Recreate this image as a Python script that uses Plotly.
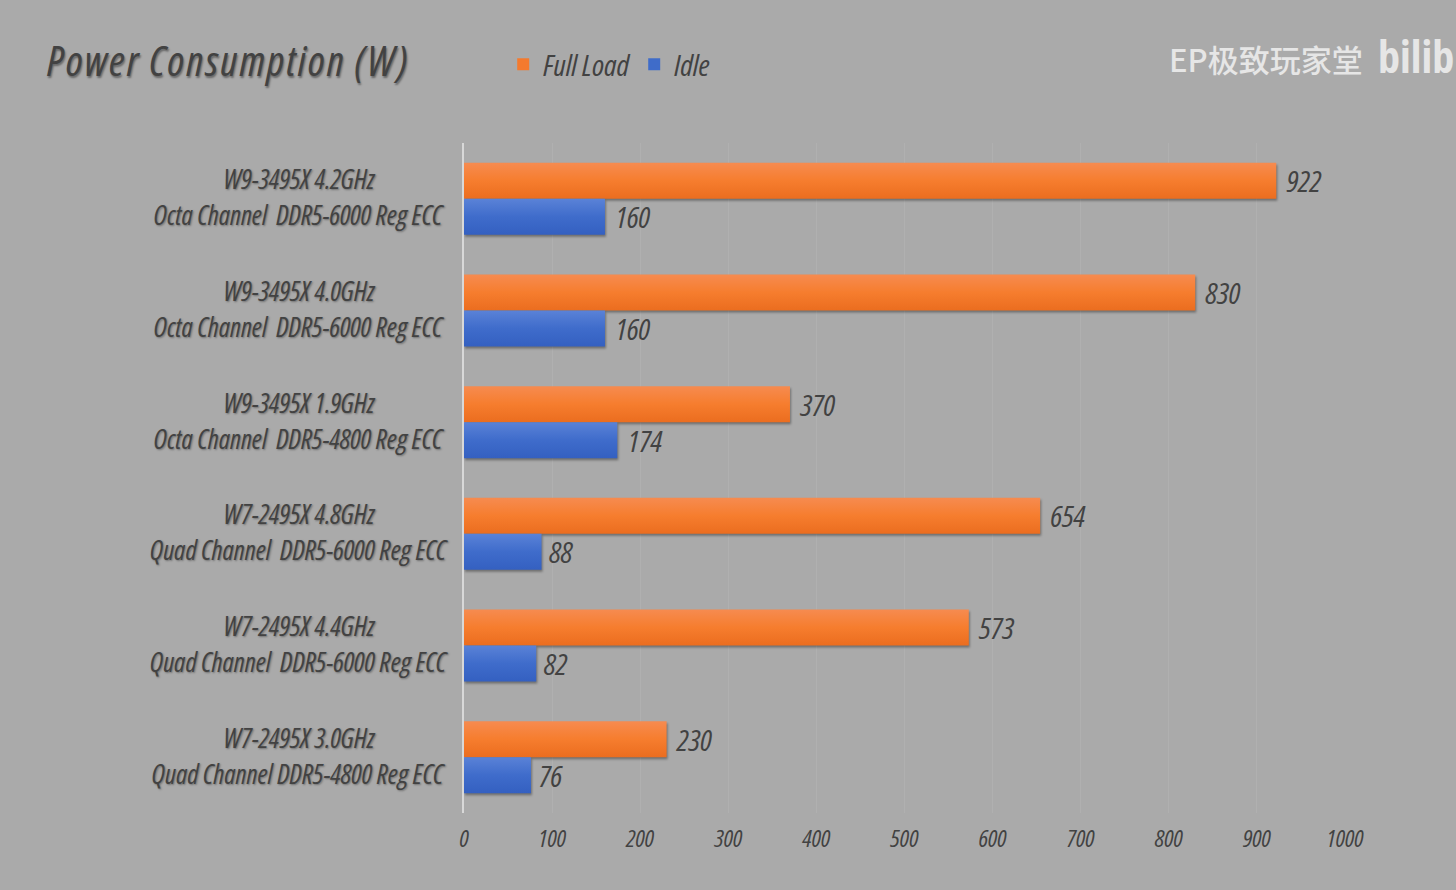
import plotly.graph_objects as go

line1 = ["W9-3495X 4.2GHz", "W9-3495X 4.0GHz", "W9-3495X 1.9GHz",
         "W7-2495X 4.8GHz", "W7-2495X 4.4GHz", "W7-2495X 3.0GHz"]
line2 = ["Octa Channel\u00a0\u00a0DDR5-6000 Reg ECC", "Octa Channel\u00a0\u00a0DDR5-6000 Reg ECC",
         "Octa Channel\u00a0\u00a0DDR5-4800 Reg ECC", "Quad Channel\u00a0\u00a0DDR5-6000 Reg ECC",
         "Quad Channel\u00a0\u00a0DDR5-6000 Reg ECC", "Quad Channel DDR5-4800 Reg ECC"]
categories = [a + " / " + b for a, b in zip(line1, line2)]
full_load = [922, 830, 370, 654, 573, 230]
idle = [160, 160, 174, 88, 82, 76]
x_ticks = [0, 100, 200, 300, 400, 500, 600, 700, 800, 900, 1000]

NARROW = "Open Sans"
DARK = "#424242"
SHADOW = "1px 1px 2px rgba(0,0,0,0.35)"

fig = go.Figure()
for name, vals, col in [("Full Load", full_load, "#F47A2E"), ("Idle", idle, "#3F6CC9")]:
    fig.add_trace(go.Bar(
        name=name, y=categories, x=vals, orientation="h", marker=dict(color=col, line_width=0),
        text=vals, textposition="outside", cliponaxis=False, constraintext="none",
        textfont=dict(family=NARROW, size=30, color=DARK, style="italic"),
    ))

ann = []
for i, (a, b) in enumerate(zip(line1, line2)):
    for txt, shift in ((a, 20), (b, -16)):
        ann.append(dict(xref="paper", yref="y", x=-0.1875, y=categories[i], text=txt,
                        yshift=shift, xanchor="center", yanchor="middle", showarrow=False,
                        font=dict(family=NARROW, size=27, color=DARK, style="italic", shadow=SHADOW)))
ann.append(dict(xref="paper", yref="paper", x=-0.476, y=1.124, align="left",
                text='<span style="letter-spacing:2px">Power Consumption (W)</span>',
                xanchor="left", yanchor="middle", showarrow=False,
                font=dict(family=NARROW, size=42, color=DARK, style="italic",
                          shadow="1px 2px 2px rgba(0,0,0,0.4)")))
ann.append(dict(xref="paper", yref="paper", x=0.798, y=1.126, text="EP极致玩家堂", align="left",
                xanchor="left", yanchor="middle", showarrow=False,
                font=dict(family="Noto Sans CJK SC", size=31, color="#E6E6E6", weight=500)))
ann.append(dict(xref="paper", yref="paper", x=1.035, y=1.13, text="bilib", align="left",
                xanchor="left", yanchor="middle", showarrow=False,
                font=dict(family="Open Sans", size=44, color="#E6E6E6", weight=700)))

fig.update_layout(
    width=1456, height=890, barmode="group", bargap=0.355, bargroupgap=0,
    margin=dict(l=464, r=111, t=143, b=77),
    paper_bgcolor="#AAAAAA", plot_bgcolor="#AAAAAA", showlegend=True,
    legend=dict(orientation="h", x=0.0445, y=1.1175, xanchor="left", yanchor="middle",
                traceorder="normal", itemwidth=30, entrywidth=86, entrywidthmode="pixels",
                bgcolor="rgba(0,0,0,0)",
                font=dict(family=NARROW, size=30, color=DARK, style="italic")),
    annotations=ann,
    xaxis=dict(range=[0, 1000], tickvals=x_ticks, showgrid=True, gridcolor="#B0B0B0", gridwidth=1,
               zeroline=False, showline=False, ticks="", ticklabelstandoff=9,
               tickfont=dict(family=NARROW, size=24, color=DARK, style="italic")),
    yaxis=dict(autorange="reversed", showticklabels=False, ticks="", showgrid=False,
               zeroline=False, showline=True, linecolor="#D8D8D8", linewidth=2),
)

post = """
document.body.style.margin='0';document.body.style.overflow='hidden';document.body.style.background='#AAAAAA';
var css='svg text{font-stretch:62.5% !important;}'
 +'g.barlayer g.trace:nth-of-type(1) path{fill:url(#gradO) !important;filter:drop-shadow(1px 2px 1px rgba(0,0,0,.35));}'
 +'g.barlayer g.trace:nth-of-type(2) path{fill:url(#gradB) !important;filter:drop-shadow(1px 2px 1px rgba(0,0,0,.35));}';
var s=document.createElement('style');s.textContent=css;document.head.appendChild(s);
var svg=document.querySelector('svg.main-svg');
var ns='http://www.w3.org/2000/svg';
var defs=document.createElementNS(ns,'defs');
[['gradO',['#F68B50','#F67D2E','#EB6D1F']],['gradB',['#5A82D7','#3F6CCB','#3460C1']]].forEach(function(g){
  var lg=document.createElementNS(ns,'linearGradient');lg.setAttribute('id',g[0]);
  lg.setAttribute('x1','0');lg.setAttribute('y1','0');lg.setAttribute('x2','0');lg.setAttribute('y2','1');
  g[1].forEach(function(c,i){var st=document.createElementNS(ns,'stop');st.setAttribute('offset',(i*50)+'%');st.setAttribute('stop-color',c);lg.appendChild(st);});
  defs.appendChild(lg);});
svg.appendChild(defs);
"""
fig.write_html("out.html", config=dict(displayModeBar=False), post_script=post)
